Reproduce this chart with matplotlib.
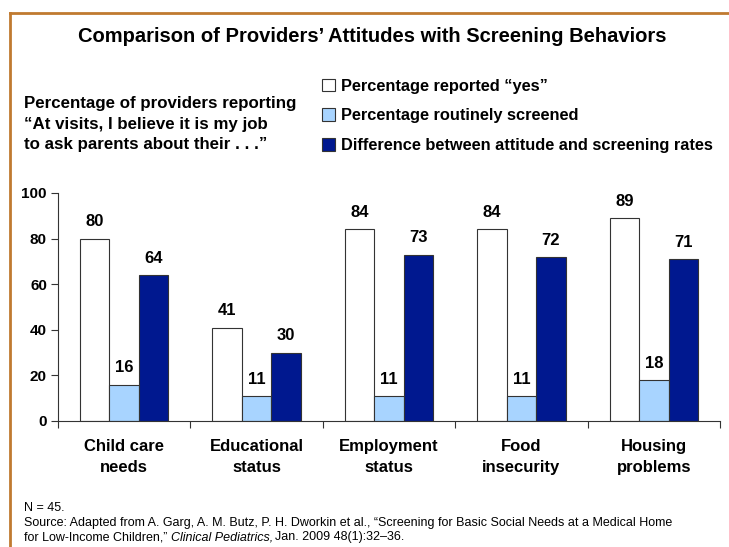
import numpy as np
import matplotlib
matplotlib.use("Agg")
from matplotlib import pyplot as plt
from matplotlib.lines import Line2D
from matplotlib.patches import Patch

categories = ["Child care\nneeds", "Educational\nstatus", "Employment\nstatus",
              "Food\ninsecurity", "Housing\nproblems"]
reported_yes = [80, 41, 84, 84, 89]
routinely_screened = [16, 11, 11, 11, 18]
difference = [64, 30, 73, 72, 71]
series_labels = ["Percentage reported \u201cyes\u201d",
                 "Percentage routinely screened",
                 "Difference between attitude and screening rates"]
yticks = [0, 20, 40, 60, 80, 100]

colors = ["#FFFFFF", "#A8D4FF", "#00188F"]

plt.rcParams["font.family"] = ["Liberation Sans", "DejaVu Sans"]

W, H = 729, 547
fig = plt.figure(figsize=(W / 100, H / 100), dpi=100)

def fx(px):
    return px / W

def fy(py):
    return 1 - py / H

# orange frame along top and left
fig.add_artist(Line2D([fx(10), 1.0], [fy(13), fy(13)], color="#C07A30", lw=2))
fig.add_artist(Line2D([fx(10), fx(10)], [fy(13), 0.0], color="#C07A30", lw=2))

fig.text(fx(372), fy(37), "Comparison of Providers\u2019 Attitudes with Screening Behaviors",
         ha="center", va="center", fontsize=14.5, fontweight="bold")

fig.text(fx(24), fy(124),
         "Percentage of providers reporting\n\u201cAt visits, I believe it is my job\nto ask parents about their . . .\u201d",
         ha="left", va="center", fontsize=12.2, fontweight="bold", linespacing=1.45)

ax = fig.add_axes([fx(58), fy(421), fx(720) - fx(58), fy(193) - fy(421)])

x = np.arange(len(categories))
bw = 0.223
series = [reported_yes, routinely_screened, difference]
for i, vals in enumerate(series):
    pos = x + (i - 1) * bw
    ax.bar(pos, vals, width=bw, color=colors[i], edgecolor="#333333",
           linewidth=0.8, label=series_labels[i], zorder=2)
    for xp, v in zip(pos, vals):
        ax.text(xp, v + 4, str(v), ha="center", va="bottom",
                fontsize=12, fontweight="bold")

ax.set_xlim(-0.5, len(categories) - 0.5)
ax.set_ylim(0, 100)
ax.set_yticks(yticks)
ax.set_yticklabels([str(t) for t in yticks], fontsize=11, fontweight="bold")
ax.set_xticks(np.arange(len(categories) + 1) - 0.5, minor=False)
ax.set_xticklabels([])
ax.tick_params(axis="x", direction="out", length=5, width=0.8, color="#333333")
ax.tick_params(axis="y", direction="out", length=5, width=0.8, color="#333333", pad=3)
for i, c in enumerate(categories):
    ax.text(i, -8, c, ha="center", va="top", fontsize=12, fontweight="bold",
            linespacing=1.5, transform=ax.transData)

for s in ["top", "right"]:
    ax.spines[s].set_visible(False)
ax.spines["left"].set_color("#333333")
ax.spines["bottom"].set_color("#333333")
ax.spines["left"].set_linewidth(0.8)
ax.spines["bottom"].set_linewidth(0.8)

handles = [Patch(facecolor=colors[i], edgecolor="#333333", linewidth=0.8,
                 label=series_labels[i]) for i in range(3)]
fig.legend(handles=handles, loc="upper left", bbox_to_anchor=(fx(315), fy(72)),
           frameon=False, prop={"weight": "bold", "size": 11.8},
           handlelength=0.8, handleheight=0.8, handletextpad=0.4,
           labelspacing=0.9, borderaxespad=0)

# footnote
fig.text(fx(24), fy(508), "N = 45.", fontsize=9, va="center")
fig.text(fx(24), fy(523),
         "Source: Adapted from A. Garg, A. M. Butz, P. H. Dworkin et al., \u201cScreening for Basic Social Needs at a Medical Home",
         fontsize=9, va="center")
renderer = fig.canvas.get_renderer()
t1 = fig.text(fx(24), fy(537), "for Low-Income Children,\u201d ", fontsize=9, va="center")
bb = t1.get_window_extent(renderer)
t2 = fig.text(bb.x1 / W, fy(537), "Clinical Pediatrics,", fontsize=9,
              va="center", style="italic")
bb = t2.get_window_extent(renderer)
fig.text(bb.x1 / W + 1.5 / W, fy(537), "Jan. 2009 48(1):32\u201336.", fontsize=9, va="center")

fig.savefig("out.png", dpi=100)
